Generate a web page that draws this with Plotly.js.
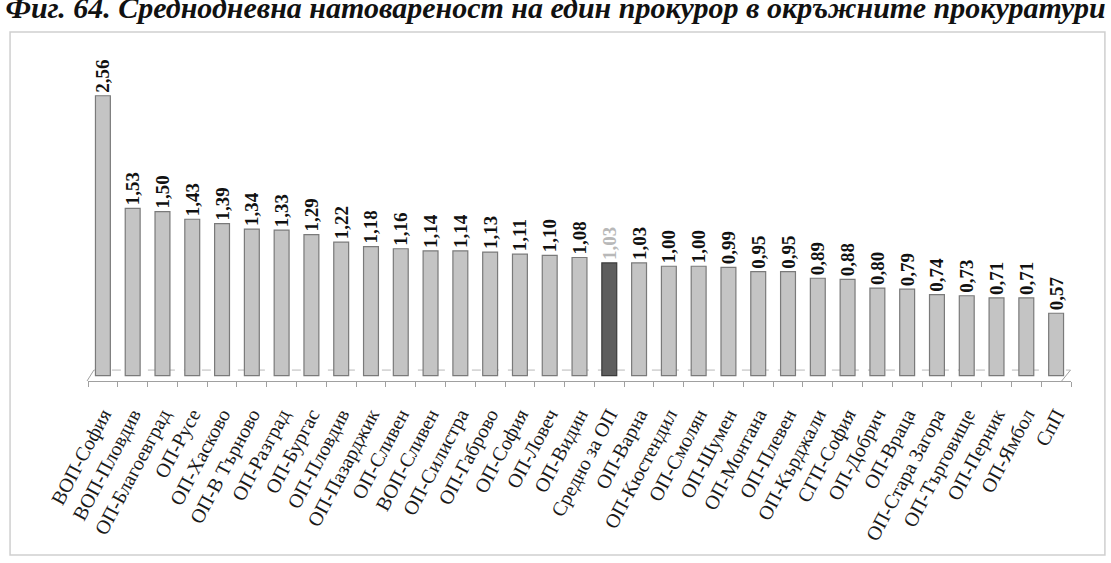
<!DOCTYPE html>
<html>
<head>
<meta charset="utf-8">
<script src="https://cdn.plot.ly/plotly-3.0.1.min.js"></script>
<style>html,body{margin:0;padding:0;background:#fff;}#chart{width:1111px;height:563px;}</style>
</head>
<body>
<div id="chart"></div>
<script>
var categories = ["ВОП-София","ВОП-Пловдив","ОП-Благоевград","ОП-Русе","ОП-Хасково","ОП-В Търново","ОП-Разград","ОП-Бургас","ОП-Пловдив","ОП-Пазарджик","ОП-Сливен","ВОП-Сливен","ОП-Силистра","ОП-Габрово","ОП-София","ОП-Ловеч","ОП-Видин","Средно за ОП","ОП-Варна","ОП-Кюстендил","ОП-Смолян","ОП-Шумен","ОП-Монтана","ОП-Плевен","ОП-Кърджали","СГП-София","ОП-Добрич","ОП-Враца","ОП-Стара Загора","ОП-Търговище","ОП-Перник","ОП-Ямбол","СпП"];
var values = [2.56,1.53,1.50,1.43,1.39,1.34,1.33,1.29,1.22,1.18,1.16,1.14,1.14,1.13,1.11,1.10,1.08,1.03,1.03,1.00,1.00,0.99,0.95,0.95,0.89,0.88,0.80,0.79,0.74,0.73,0.71,0.71,0.57];
var highlight = "Средно за ОП";
var titleText = "Фиг. 64. Среднодневна натовареност на един прокурор в окръжните прокуратури";

var barColors = categories.map(function(c){ return c === highlight ? "#5e5e5e" : "#c4c4c4"; });
var lineColors = categories.map(function(c){ return c === highlight ? "#3a3a3a" : "#7a7a7a"; });
var textColors = categories.map(function(c){ return c === highlight ? "#b8b8b8" : "#111111"; });

var trace = {
  type: "bar",
  x: categories,
  y: values,
  marker: {color: barColors, line: {color: lineColors, width: 1.2}},
  texttemplate: "%{y:.2f}",
  textposition: "outside",
  textangle: -90,
  constraintext: "none",
  cliponaxis: false,
  textfont: {family: "Liberation Serif, Times New Roman, serif", size: 19, color: textColors, weight: "bold"},
  hoverinfo: "x+y"
};

var layout = {
  width: 1111, height: 563,
  margin: {l: 88, r: 40, t: 40, b: 182},
  paper_bgcolor: "#ffffff",
  plot_bgcolor: "#ffffff",
  separators: ",.",
  showlegend: false,
  bargap: 0.5,
  title: {
    text: "<b><i>" + titleText + "</i></b>",
    font: {family: "Liberation Serif, Times New Roman, serif", size: 30, color: "#111"},
    x: 0.5, xanchor: "center", xref: "container",
    y: 0.986, yref: "container", yanchor: "middle"
  },
  xaxis: {
    type: "category",
    tickangle: -62,
    tickfont: {family: "Liberation Serif, Times New Roman, serif", size: 20, color: "#1a1a1a"},
    showline: true, linecolor: "#a0a0a0", linewidth: 1,
    ticks: "outside", ticklen: 5, tickcolor: "#a0a0a0",
    tickson: "boundaries",
    ticklabelstandoff: 13,
    showgrid: false, zeroline: false,
    fixedrange: true
  },
  yaxis: {
    range: [-0.05, 3.07],
    visible: false,
    showgrid: false, zeroline: false,
    fixedrange: true
  },
  shapes: [
    {type: "rect", xref: "paper", yref: "paper", x0: -0.0793, x1: 1.0345, y0: -0.51, y1: 1.0235,
     line: {color: "#cfcfcf", width: 1.5}, layer: "below"},
    {type: "line", xref: "paper", yref: "y", x0: 0.006, x1: 0.9995, y0: 0.05, y1: 0.05,
     line: {color: "#b8b8b8", width: 1, dash: "dash"}, layer: "below"},
    {type: "line", xref: "paper", yref: "y", x0: -0.001, x1: 0.006, y0: -0.05, y1: 0.05,
     line: {color: "#a0a0a0", width: 1}, layer: "below"},
    {type: "line", xref: "paper", yref: "y", x0: 0.9905, x1: 0.9995, y0: -0.05, y1: 0.05,
     line: {color: "#a0a0a0", width: 1}, layer: "below"}
  ]
};

Plotly.newPlot("chart", [trace], layout, {displayModeBar: false, staticPlot: true});
</script>
</body>
</html>
